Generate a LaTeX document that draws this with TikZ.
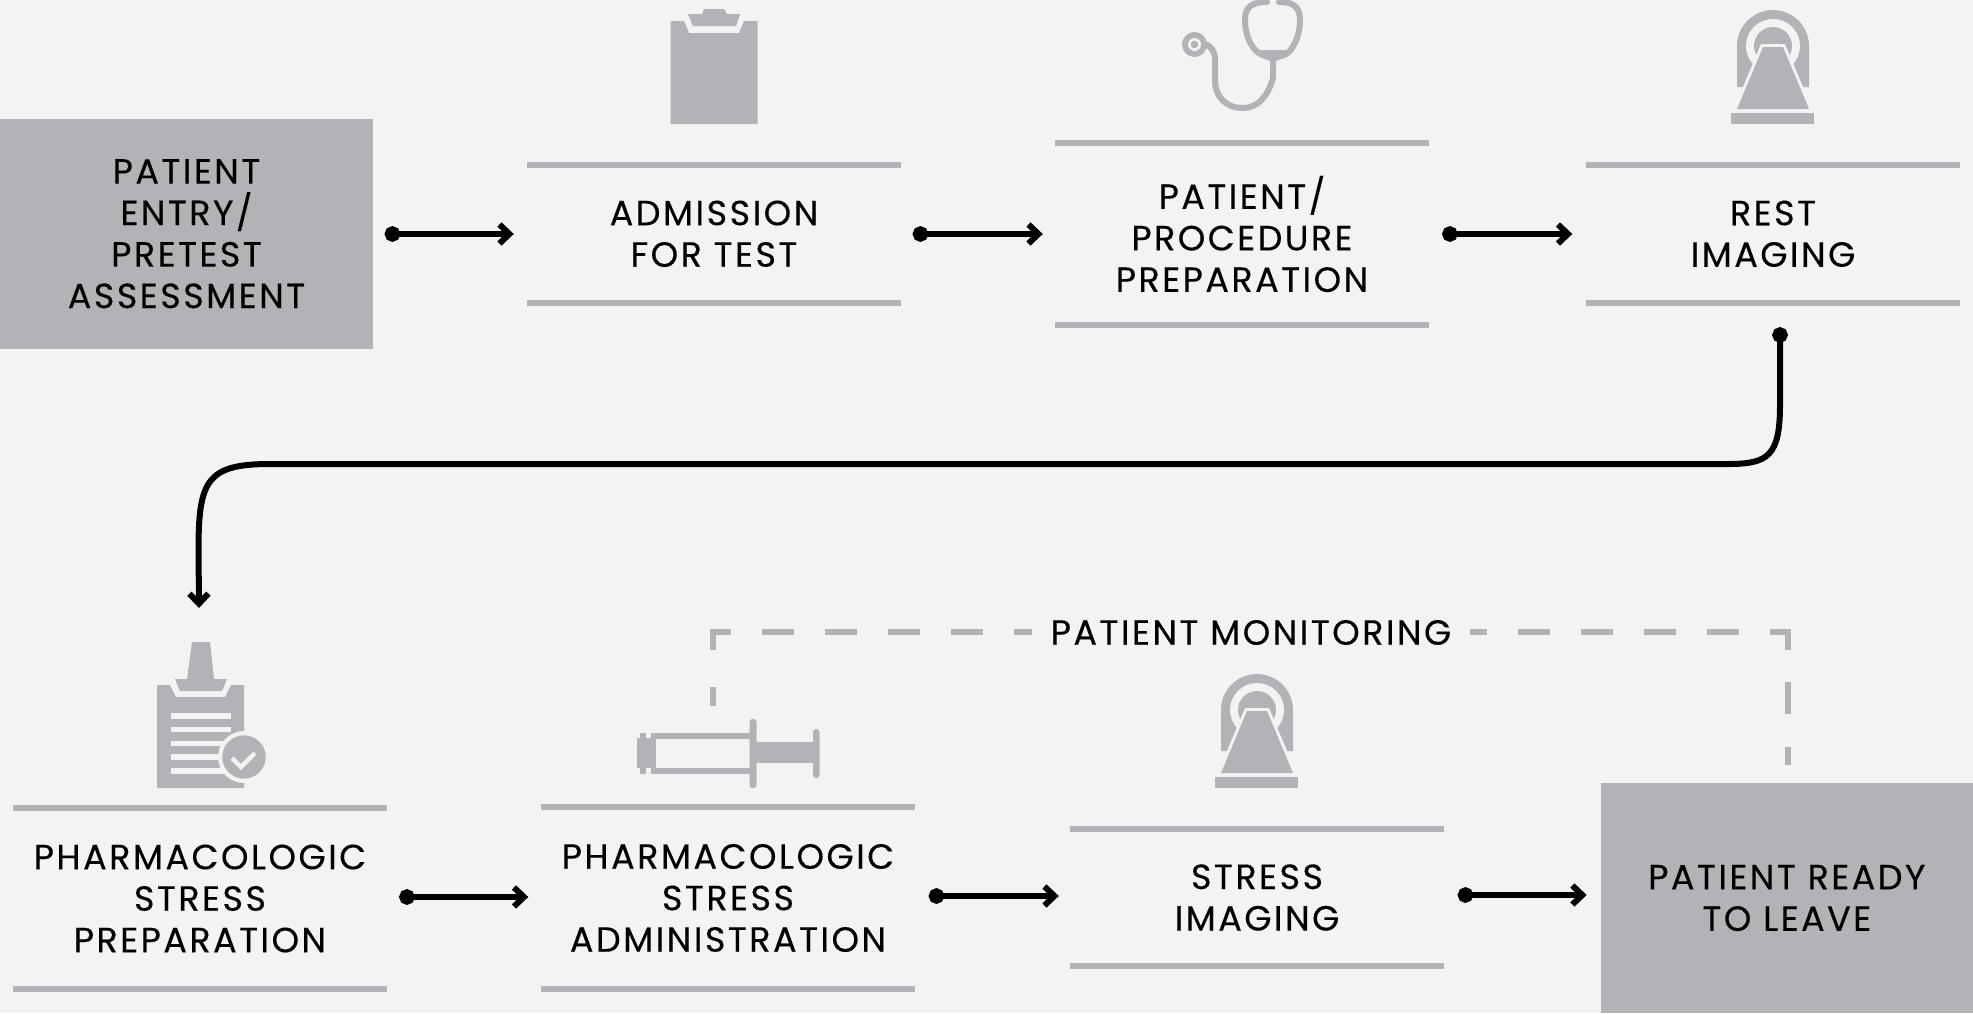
\documentclass[tikz,border=0pt]{standalone}
\usepackage{fontspec}
\setmainfont{Poppins}[LetterSpace=7,FakeBold=0.25]
\usetikzlibrary{arrows.meta}
\definecolor{bgc}{HTML}{F2F3F5}
\definecolor{gc}{HTML}{B2B3B6}
\tikzset{
  x=1pt,y=-1pt,
  label text/.style={font=\fontsize{35}{41.5}\selectfont,align=center,inner sep=0pt,text=black},
  stepbox/.style={label text,minimum width=374pt},
  endbox/.style={label text,fill=gc},
  rule/.style={draw=gc,line width=6pt},
  flow/.style={draw=black,line width=6pt,{Circle[length=15.5pt,width=15.5pt]}-{Straight Barb[length=10pt,width=19pt,line width=6pt]}},
  longflow/.style={flow},
  monitor/.style={draw=gc,line width=6pt,line join=miter},
  monitordash/.style={monitor,dash pattern=on 32pt off 31pt},
}
\newcommand{\scannerIcon}[2]{%
\begin{scope}[shift={(#1,#2)}]
  \fill[gc] (-36,87) -- (-36,46) arc[start angle=180,end angle=360,radius=36] -- (36,87) -- cycle;
  \fill[bgc] (0,46) circle[radius=27];
  \fill[gc] (0,46) circle[radius=19];
  \draw[bgc,line width=6pt,line join=miter] (-10,47) -- (10,47) -- (36,109) -- (-36,109) -- cycle;
  \fill[gc] (-10,47) -- (10,47) -- (36,109) -- (-36,109) -- cycle;
  \fill[gc] (-42,113) rectangle (41,124);
\end{scope}}
\begin{document}
\begin{tikzpicture}
\useasboundingbox[fill=bgc] (0,0) rectangle (1973,1013);
% boxes
\node[endbox,minimum width=373pt,minimum height=229.5pt] (entry) at (186.5,233.75) {PATIENT\\ENTRY/\\PRETEST\\ASSESSMENT};
\node[endbox,minimum width=372.4pt,minimum height=230pt] (ready) at (1786.8,898) {PATIENT READY\\TO LEAVE};
% steps
\node[stepbox,minimum height=137.5pt] (admit) at (714,233.75) {ADMISSION\\FOR TEST};
\node[stepbox,minimum height=181pt] (prep) at (1242,234) {PATIENT/\\PROCEDURE\\PREPARATION};
\node[stepbox,minimum height=137.5pt] (rest) at (1773,233.75) {REST\\IMAGING};
\node[stepbox,minimum height=181pt] (pprep) at (200,898.5) {PHARMACOLOGIC\\STRESS\\PREPARATION};
\node[stepbox,minimum height=182pt] (padmin) at (728,898) {PHARMACOLOGIC\\STRESS\\ADMINISTRATION};
\node[stepbox,minimum height=137pt] (simg) at (1257,897.5) {STRESS\\IMAGING};
\foreach \n in {admit,prep,rest,pprep,padmin,simg}{
  \draw[rule] (\n.north west) -- (\n.north east);
  \draw[rule] (\n.south west) -- (\n.south east);
}
% connectors
\draw[flow] ([xshift=11.5pt,yshift=-0.25pt]entry.east) -- ([xshift=-13pt,yshift=-0.25pt]admit.west);
\draw[flow] ([xshift=11.5pt,yshift=-0.25pt]admit.east) -- ([xshift=-12pt]prep.west);
\draw[flow] ([xshift=13pt]prep.east) -- ([xshift=-13.5pt,yshift=-0.25pt]rest.west);
\draw[flow] ([xshift=12pt,yshift=1.5pt]pprep.east) -- ([xshift=-12.5pt,yshift=1pt]padmin.west);
\draw[flow] ([xshift=13.5pt,yshift=2pt]padmin.east) -- ([xshift=-11pt,yshift=1.5pt]simg.west);
\draw[flow] ([xshift=13.5pt,yshift=2.5pt]simg.east) -- ([xshift=-13.7pt,yshift=3pt]ready.west);
\coordinate (turnin) at ([xshift=7pt,yshift=-24.5pt]rest.south);
\coordinate (turnout) at (199,608);
\draw[longflow] (turnin) -- (1780,405) .. controls (1780,456) and (1768,464) .. (1728,464) -- (270,464) .. controls (208,464) and (199,480) .. (198.5,545) -- (turnout);
% monitoring
\coordinate (mona) at (712.7,706);
\coordinate (monb) at (712.7,687);
\coordinate (monc) at (712.7,650);
\coordinate (mond) at (730.7,632);
\coordinate (mone) at (761.7,632);
\coordinate (monf) at (1740,632);
\coordinate (mong) at (1770,632);
\coordinate (monh) at (1788,650);
\coordinate (moni) at (1788,682);
\coordinate (monj) at (1788,714);
\coordinate (monk) at (1788,747);
\coordinate (monl) at ([xshift=1.2pt,yshift=18pt]ready.north);
\draw[monitor] (mona) -- (monb);
\draw[monitor] (monc) |- (mond);
\draw[monitordash] (mone) -- (monf);
\draw[monitor] (mong) -| (monh);
\draw[monitor] (moni) -- (monj);
\draw[monitor] (monk) -- (monl);
\node[label text,fill=bgc,inner xsep=19pt,inner ysep=6pt] (mon) at (1251,632.5) {PATIENT MONITORING};
% clipboard icon
\fill[gc] (670.7,21) -- (684,21) -- (689,33) -- (739,33) -- (744,21) -- (757.7,21) -- (757.7,124) -- (670.7,124) -- cycle;
\fill[gc] (688,14) -- (702,14) -- (704,9) -- (724,9) -- (727,14) -- (740,14) -- (736,26) -- (693,26) -- cycle;
% stethoscope
\begin{scope}[draw=gc,line width=6pt,line cap=round,line join=round]
  \draw (1267,2) .. controls (1253,2) and (1245,6) .. (1245,20) .. controls (1245,38) and (1254,53) .. (1263,55) .. controls (1270,57) and (1277,57) .. (1284,55) .. controls (1291,53) and (1300,38) .. (1300,20) .. controls (1300,6) and (1292,2) .. (1279,2);
  \draw (1273,60) -- (1273,78) .. controls (1268,96) and (1258,108) .. (1243,108) .. controls (1225,108) and (1215,96) .. (1215,80) -- (1215,58) .. controls (1215,52) and (1211,46) .. (1205,44);
\end{scope}
\fill[gc] (1258,50) -- (1288,50) -- (1284,58) -- (1273,62) -- (1262,58) -- cycle;
\fill[gc] (1194.5,44.5) circle[radius=12.5];
\fill[bgc] (1194.5,44.5) circle[radius=6.5];
\fill[gc] (1194.5,44.5) circle[radius=3.8];
% scanners
\scannerIcon{1773}{0}
\scannerIcon{1257}{664}
% checklist clipboard
\fill[gc] (157,685) -- (170,685) -- (176,697) -- (225,697) -- (231,685) -- (244,685) -- (244,788) -- (157,788) -- cycle;
\fill[gc] (175,679) -- (187,679) -- (192,642) -- (210,642) -- (214,679) -- (227,679) -- (222,691) -- (180,691) -- cycle;
\foreach \ya/\yb in {713/719,727/732,741/746,754/760,768/774}
  \fill[bgc] (171,\ya) rectangle (231,\yb);
\fill[bgc] (244,757) circle[radius=26];
\fill[gc] (244,757) circle[radius=21.7];
\draw[bgc,line width=4.5pt,line join=miter] (232,758) -- (241,767) -- (255,753);
% syringe
\fill[gc] (637,738) rectangle (656,768);
\fill[gc] (640,733) rectangle (646,774);
\fill[gc] (650.7,733) rectangle (656,774);
\draw[gc,line width=5.5pt] (653.5,736) -- (752,736) (653.5,771) -- (752,771);
\fill[gc,rounded corners=3pt] (749.5,719) rectangle (756.5,788);
\fill[gc] (756,742) rectangle (815,763);
\fill[gc,rounded corners=3pt] (813,729) rectangle (819.5,778);
\end{tikzpicture}
\end{document}
